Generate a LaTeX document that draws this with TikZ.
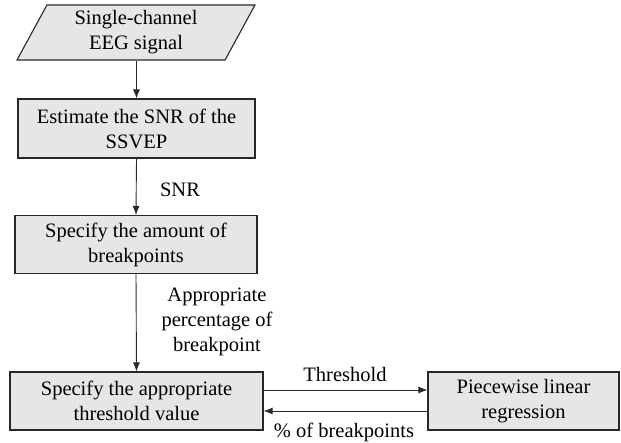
\documentclass[tikz,border=0pt]{standalone}
\usepackage{fontspec}
\setmainfont{Liberation Serif}
\usetikzlibrary{shapes.geometric,arrows.meta}
\definecolor{boxfill}{RGB}{230,230,230}
\definecolor{edge}{RGB}{40,40,40}
\begin{document}
\begin{tikzpicture}[x=1pt,y=-1pt,
  box/.style={draw=edge,line width=1.1pt,fill=boxfill,inner sep=0pt,align=center,
    font=\fontsize{20.5}{25}\selectfont},
  lbl/.style={align=center,inner sep=0pt,font=\fontsize{20.5}{25}\selectfont},
  arr/.style={draw=edge,line width=0.9pt,-{Latex[length=9pt,width=7pt]}}]
\useasboundingbox (0,0) rectangle (621,443);
\node[box,trapezium,trapezium left angle=64.7,trapezium right angle=115.3,
  trapezium stretches=true,minimum width=238pt,minimum height=55pt] (in) at (136,32.5)
  {Single-channel\\EEG signal};
\node[box,minimum width=237pt,minimum height=59pt] (est) at (136.5,128.5)
  {Estimate the SNR of the\\SSVEP};
\node[box,minimum width=242pt,minimum height=58pt] (amt) at (136,244.5)
  {Specify the amount of\\breakpoints};
\node[box,minimum width=253pt,minimum height=58pt] (thr) at (136.5,401)
  {Specify the appropriate\\threshold value};
\node[box,minimum width=191pt,minimum height=58pt] (plr) at (523.5,401)
  {Piecewise linear\\regression};
\draw[arr] (in.south -| est.north) -- (est.north);
\draw[arr] (est.south) -- (amt.north);
\draw[arr] (amt.south) -- (thr.north);
\draw[arr] ([yshift=11pt]thr.east) -- ([yshift=11pt]plr.west);
\draw[arr] ([yshift=-10pt]plr.west) -- ([yshift=-10pt]thr.east);
\node[lbl] (snr) at (180,190) {SNR};
\node[lbl] (pct) at (217,322) {Appropriate\\percentage of\\breakpoint};
\node[lbl] (th) at (345,374) {Threshold};
\node[lbl] (bp) at (344,432) {\% of breakpoints};
\end{tikzpicture}
\end{document}
